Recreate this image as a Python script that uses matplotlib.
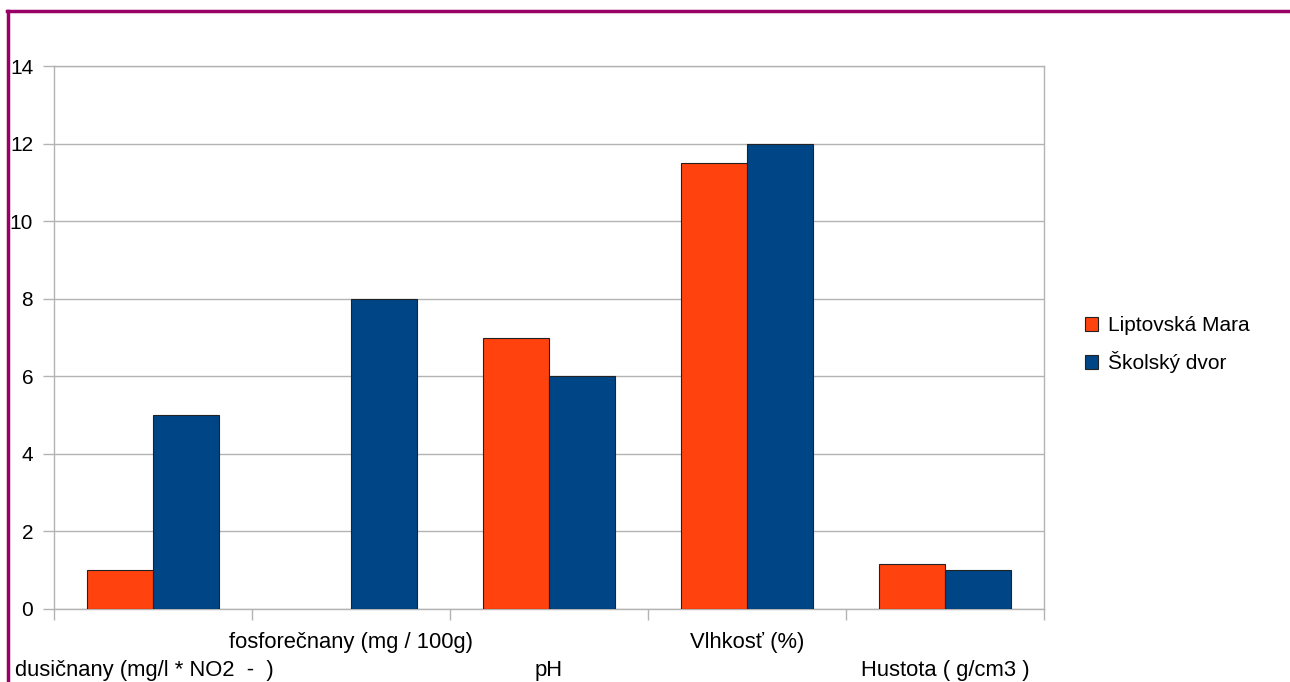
#!/usr/bin/env python3
"""Soil measurements: Liptovská Mara vs Školský dvor."""

import numpy as np
import matplotlib.pyplot as plt

plt.rcParams['font.family'] = ['Liberation Sans', 'DejaVu Sans']

categories = ["dusičnany (mg/l * NO2  -  )", "fosforečnany (mg / 100g)", "pH",
              "Vlhkosť (%)", "Hustota ( g/cm3 )"]
liptovska_mara = [1.0, 0.0, 7.0, 11.5, 1.15]
skolsky_dvor = [5.0, 8.0, 6.0, 12.0, 1.0]
series_names = ["Liptovská Mara", "Školský dvor"]
yticks = [0, 2, 4, 6, 8, 10, 12, 14]

grid_c = '#b3b3b3'
fs = 15

fig = plt.figure(figsize=(12.9, 6.82), dpi=100)
ax = fig.add_axes([54 / 1290, 1 - 609 / 682, 990 / 1290, 543 / 682])

x = np.arange(len(categories))
w = 1 / 3
for vals, off, col, name in [(liptovska_mara, -w / 2, '#ff420e', series_names[0]),
                             (skolsky_dvor, w / 2, '#004586', series_names[1])]:
    lw = [0.8 if v > 0 else 0 for v in vals]
    ax.bar(x + off, vals, w, color=col, edgecolor='#222222',
           linewidth=lw, label=name, zorder=3)

ax.set_xlim(-0.5, len(categories) - 0.5)
ax.set_ylim(0, 14)
ax.set_yticks(yticks)
ax.set_yticklabels([str(v) for v in yticks])
ax.yaxis.grid(True, color=grid_c, linewidth=1, zorder=0)
for s in ax.spines.values():
    s.set_color(grid_c)
    s.set_linewidth(1)

ax.set_xticks(np.arange(len(categories) + 1) - 0.5)
ax.set_xticklabels([])
ax.tick_params(axis='x', length=8, color=grid_c, width=1)
ax.tick_params(axis='y', length=8, color=grid_c, width=1, pad=7,
               labelsize=fs, labelcolor='black')

for i, lab in enumerate(categories):
    off = -24 if i % 2 == 1 else -44
    dx = -6.5 if i == 0 else 0
    ax.annotate(lab, xy=(i, 0), xycoords=('data', 'axes fraction'),
                xytext=(dx, off), textcoords='offset points',
                ha='center', va='center', fontsize=15.8)

leg = ax.legend(loc='center left', bbox_to_anchor=(1.022, 0.487), frameon=False,
                fontsize=fs, handlelength=0.65, handleheight=0.65, handletextpad=0.5,
                labelspacing=0.75)
for h in leg.legend_handles:
    h.set_linewidth(0.8)

# purple frame on top and left
fig.add_artist(plt.Line2D([7 / 1290, 1], [1 - 11 / 682, 1 - 11 / 682],
                          color='#990066', linewidth=2.5, transform=fig.transFigure))
fig.add_artist(plt.Line2D([7.5 / 1290, 7.5 / 1290], [0, 1 - 11 / 682],
                          color='#990066', linewidth=2.5, transform=fig.transFigure))

fig.savefig("out.png", dpi=100)
